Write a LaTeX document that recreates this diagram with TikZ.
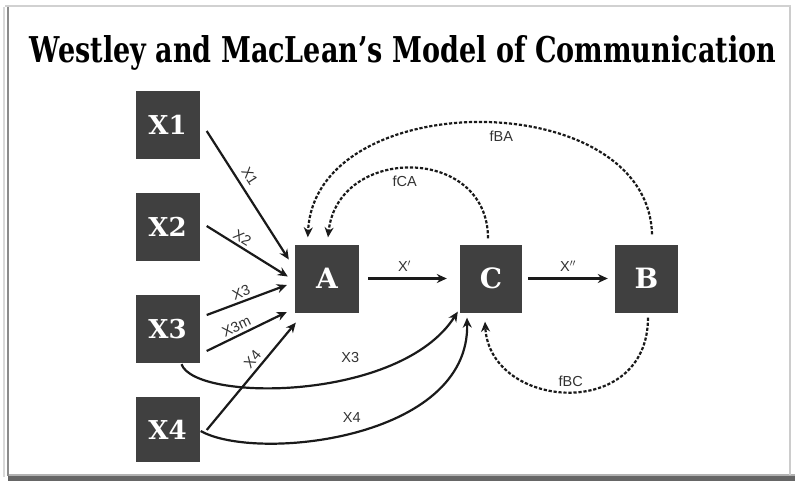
\documentclass[tikz,border=0pt]{standalone}
\usepackage{fontspec}
\setmainfont{DejaVu Serif}
\newfontfamily\lblfont{Liberation Sans}
\usetikzlibrary{arrows.meta,calc}
\definecolor{boxgray}{HTML}{404040}
\definecolor{inkgray}{HTML}{1A1A1A}
\definecolor{lblgray}{HTML}{333333}

\begin{document}
\begin{tikzpicture}[x=1pt,y=-1pt,
  agent/.style={fill=boxgray, text=white, minimum width=64pt, minimum height=68pt,
    inner sep=0pt, font=\fontsize{26}{26}\selectfont\bfseries},
  bigagent/.style={agent, font=\fontsize{28}{28}\selectfont\bfseries},
  flow/.style={draw=inkgray, line width=2.2pt, -{Stealth[length=10pt,width=9pt]}},
  feedback/.style={flow, dash pattern=on 3.2pt off 1.8pt},
  lbl/.style={font=\lblfont\fontsize{14.5}{14.5}\selectfont, text=lblgray, inner sep=1pt}
]
% page and card frame
\useasboundingbox (0,0) rectangle (795,481);
\fill[white] (0,0) rectangle (795,481);
\fill[black!60] (8,476) rectangle (795,481);
\fill[black!30] (8,473.5) rectangle (795,476);
\draw[black!18, line width=1.2pt] (5,6) -- (791,6);
\draw[black!45, line width=2.5pt] (8,7) -- (8,476);
\draw[black!15, line width=1.5pt] (4,7) -- (4,477);
\draw[black!20, line width=2pt] (790,7) -- (790,475);

% title
\node[anchor=base, inner sep=0pt] (title) at (403,63)
  {\resizebox{746pt}{27pt}{\bfseries Westley and MacLean’s Model of Communication}};

% agents
\node[agent] (X1) at (167.5,125) {X1};
\node[agent] (X2) at (167.5,227) {X2};
\node[agent] (X3) at (167.5,329) {X3};
\node[agent, minimum height=65pt] (X4) at (167.5,429.5) {X4};
\node[bigagent] (A) at (327,278.5) {A};
\node[bigagent, minimum width=62pt] (C) at (491,278.5) {C};
\node[bigagent, minimum width=63pt] (B) at (646.5,278.5) {B};

% objects of orientation towards A
\draw[flow] ($(X1.east)+(7,6)$) -- node[lbl, sloped, above=5pt, pos=0.4] {X1} ($(A.west)+(-6,-19)$);
\draw[flow] ($(X2.east)+(7,-1)$) -- node[lbl, sloped, above=2pt, pos=0.38] {X2} ($(A.west)+(-7,-2)$);
\draw[flow] ($(X3.east)+(7,-14)$) -- node[lbl, sloped, above=2pt, pos=0.47] {X3} ($(A.west)+(-8,6.5)$);
\draw[flow] ($(X3.east)+(7,22)$) -- node[lbl, sloped, above=2pt, pos=0.42] {X3m} ($(A.west)+(-8,33.5)$);
\draw[flow] ($(X4.east)+(7,0.5)$) -- node[lbl, sloped, above=3pt, pos=0.6] {X4} ($(A.south west)+(1,10)$);

% objects reaching C directly
\draw[flow] ($(X3.south)+(14,1)$) .. controls (195,402) and (400,402) ..
  node[lbl, pos=0.63, above=13pt] {X3} ($(C.south west)+(-2,-1)$);
\draw[flow] ($(X4.east)+(1,1.5)$) .. controls (255,462) and (470,440) ..
  node[lbl, pos=0.49, above=8pt] {X4} ($(C.south)+(-24,5)$);

% messages
\draw[flow] ($(A.east)+(9,0)$) -- node[lbl, above=5pt, xshift=-3pt] {X$'$} ($(C.west)+(-13,0)$);
\draw[flow] ($(C.east)+(6,0)$) -- node[lbl, above=5pt] {X$''$} ($(B.west)+(-7,0)$);

% feedback
\draw[feedback] ($(C.north)+(-3,-6)$) .. controls (488,145) and (338,145) ..
  node[lbl, pos=0.53, below=5pt] {fCA} ($(A.north)+(1,-7)$);
\draw[feedback] ($(B.north)+(5.5,-10)$) .. controls (648,85) and (315,85) ..
  node[lbl, pos=0.46, below=6pt] {fBA} ($(A.north west)+(13,-7)$);
\draw[feedback] ($(B.south)+(1.5,5)$) .. controls (648,422) and (490,410) ..
  node[lbl, pos=0.49, above=3pt] {fBC} ($(C.south)+(-6,9)$);
\end{tikzpicture}
\end{document}
